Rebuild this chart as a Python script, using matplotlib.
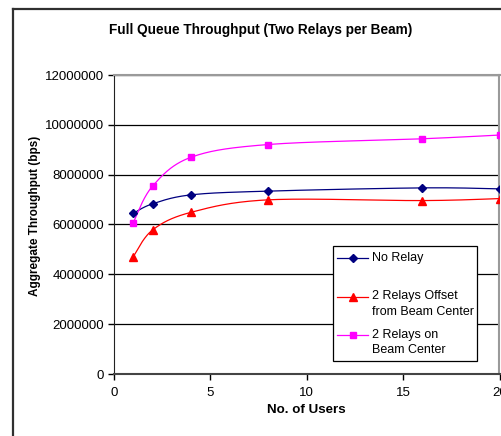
import numpy as np
import matplotlib
matplotlib.use("Agg")
import matplotlib.pyplot as plt
from matplotlib.lines import Line2D
from matplotlib.patches import Rectangle
from matplotlib.ticker import FuncFormatter

plt.rcParams['font.family'] = ['Liberation Sans', 'DejaVu Sans']

# throughput (bps) vs number of users
users = [1, 2, 4, 8, 16, 20]
no_relay = [6450000, 6830000, 7190000, 7340000, 7470000, 7430000]
relay_offset = [4710000, 5780000, 6490000, 6990000, 6960000, 7040000]
relay_center = [6080000, 7540000, 8700000, 9210000, 9440000, 9590000]

series = [
    ("No Relay", no_relay, '#000080', 'D', 4.0),
    ("2 Relays Offset\nfrom Beam Center", relay_offset, '#FF0000', '^', 6.0),
    ("2 Relays on\nBeam Center", relay_center, '#FF00FF', 's', 5.0),
]


def smooth(xs, ys, n=40):
    """Bezier smoothing through every point (spreadsheet style)."""
    p = np.column_stack([xs, ys]).astype(float)
    ext = np.vstack([p[0], p, p[-1]])
    t = np.linspace(0, 1, n)[:, None]
    out = []
    for i in range(len(p) - 1):
        p0, p3 = ext[i + 1], ext[i + 2]
        c1 = p0 + (ext[i + 2] - ext[i]) / 6.0
        c2 = p3 - (ext[i + 3] - ext[i + 1]) / 6.0
        seg = ((1 - t) ** 3) * p0 + 3 * ((1 - t) ** 2) * t * c1 \
            + 3 * (1 - t) * t ** 2 * c2 + t ** 3 * p3
        out.append(seg if i == 0 else seg[1:])
    seg = np.vstack(out)
    return seg[:, 0], seg[:, 1]


W, H = 502, 436
fig = plt.figure(figsize=(W / 100, H / 100), dpi=100)


def fx(px):
    return px / W


def fy(py):
    return 1 - py / H


# outer chart frame
fig.add_artist(Line2D([fx(13.5), fx(13.5)], [fy(9.5), fy(440)], color='#303030', lw=1.6))
fig.add_artist(Line2D([fx(13.5), fx(505)], [fy(9.5), fy(9.5)], color='#303030', lw=1.6))

ax = fig.add_axes([fx(114), fy(374), fx(499.5) - fx(114), fy(75) - fy(374)])

for label, vals, col, mk, ms in series:
    sx, sy = smooth(users, vals)
    ax.plot(sx, sy, color=col, lw=0.9, zorder=3)
    ax.plot(users, vals, ls='none', marker=mk, ms=ms, color=col, mec=col, zorder=4)

ax.set_xlim(0, 20)
ax.set_ylim(0, 12000000)
ax.set_xticks([0, 5, 10, 15, 20])
ax.set_yticks(np.arange(0, 12000001, 2000000))
ax.yaxis.set_major_formatter(FuncFormatter(lambda v, _: f"{int(v)}"))
ax.tick_params(axis='both', direction='out', length=4, width=1, labelsize=9.5,
               colors='black', pad=3)
ax.tick_params(axis='x', pad=5)

ax.set_axisbelow(True)
ax.yaxis.grid(True, color='black', lw=0.9)
ax.spines['left'].set_color('#222222')
ax.spines['bottom'].set_color('#444444')
ax.spines['bottom'].set_linewidth(1.5)
ax.spines['top'].set_color('#9a9a9a')
ax.spines['right'].set_color('#9a9a9a')
ax.spines['top'].set_linewidth(1.5)
ax.spines['right'].set_linewidth(1.5)

fig.text(fx(261), fy(30), "Full Queue Throughput (Two Relays per Beam)",
         ha='center', va='center', fontsize=9.8, fontweight='bold')
fig.text(fx(35), fy(216), "Aggregate Throughput (bps)", rotation=90,
         ha='center', va='center', fontsize=8.5, fontweight='bold')
fig.text(fx(306), fy(410), "No. of Users", ha='center', va='center',
         fontsize=9.6, fontweight='bold')

# legend box
fig.add_artist(Rectangle((fx(333), fy(361)), fx(477) - fx(333), fy(246) - fy(361),
                         facecolor='white', edgecolor='black', lw=0.9, zorder=5))
rows = [258, 297, 335]
for (label, vals, col, mk, ms), ry in zip(series, rows):
    fig.add_artist(Line2D([fx(337), fx(368)], [fy(ry), fy(ry)], color=col, lw=0.9,
                          zorder=6))
    fig.add_artist(Line2D([fx(352.5)], [fy(ry)], marker=mk, ms=ms, color=col,
                          mec=col, ls='none', zorder=7))
    fig.text(fx(372), fy(ry - 6.5), label, ha='left', va='top', fontsize=9,
             linespacing=1.35, zorder=7)

fig.savefig("out.png", dpi=100, facecolor='white')
